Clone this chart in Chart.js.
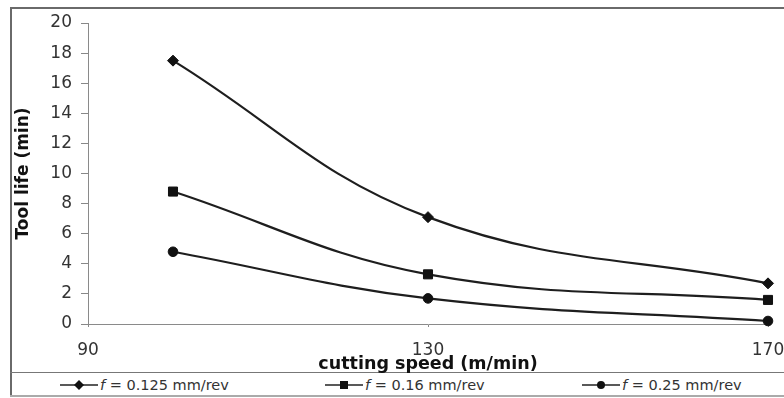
<!DOCTYPE html>
<html>
<head>
<meta charset="utf-8">
<script src="https://cdn.jsdelivr.net/npm/chart.js@4.4.1/dist/chart.umd.min.js"></script>
<style>
  html, body { margin: 0; padding: 0; background: #fff; width: 784px; height: 398px; overflow: hidden; }
  #frameLeft { position: absolute; left: 10px; top: 7px; width: 2px; height: 390px; background: #6a6a6a; }
  #frameTop { position: absolute; left: 10px; top: 7px; width: 774px; height: 2px; background: #6a6a6a; }
  #legendTop { position: absolute; left: 10px; top: 372px; width: 774px; height: 1px; background: #777; }
  #frameBottom { position: absolute; left: 10px; top: 395px; width: 774px; height: 2px; background: #aaa; }
  #wrap { position: absolute; left: 0; top: 0; width: 784px; height: 374px; }
  #legend { position: absolute; left: 0; top: 374px; width: 784px; height: 21px; font-family: "DejaVu Sans", sans-serif; font-size: 14.5px; color: #333; }
  .item { position: absolute; top: 2px; height: 18px; line-height: 18px; white-space: nowrap; }
  .item svg { vertical-align: middle; margin-right: 2px; position: relative; top: -1px; }
</style>
</head>
<body>
<div id="frameLeft"></div>
<div id="frameTop"></div>
<div id="legendTop"></div>
<div id="frameBottom"></div>
<div id="wrap"><canvas id="chart"></canvas></div>
<div id="legend"></div>
<script>
// Cutting speed (m/min) and measured tool life (min) for three feed rates
const cuttingSpeed = [100, 130, 170];
const feedRates = ['0.125', '0.16', '0.25'];
const lifeF0125 = [17.5, 7.1, 2.7];
const lifeF016 = [8.8, 3.3, 1.6];
const lifeF025 = [4.8, 1.7, 0.2];
const yTicks = [0, 2, 4, 6, 8, 10, 12, 14, 16, 18, 20];
const xTicks = [90, 130, 170];

const series = [
  { rate: feedRates[0], values: lifeF0125, marker: 'rectRot', radius: 5.5 },
  { rate: feedRates[1], values: lifeF016, marker: 'rect', radius: 6.4 },
  { rate: feedRates[2], values: lifeF025, marker: 'circle', radius: 4.8 }
];

const datasets = series.map(s => ({
  label: 'f = ' + s.rate + ' mm/rev',
  data: cuttingSpeed.map((x, i) => ({ x: x, y: s.values[i] })),
  borderColor: '#1e1e1e',
  backgroundColor: '#111',
  borderWidth: 2.2,
  pointStyle: s.marker,
  pointRadius: s.radius,
  pointBorderWidth: 1,
  pointBorderColor: '#111',
  tension: 0.4,
  clip: false,
  fill: false
}));

const tickFont = { family: '"DejaVu Sans", sans-serif', size: 17 };
const titleFontX = { family: '"DejaVu Sans", sans-serif', size: 17.5, weight: 'bold' };
const titleFontY = { family: '"DejaVu Sans", sans-serif', size: 17, weight: 'bold' };

new Chart(document.getElementById('chart'), {
  type: 'line',
  data: { datasets },
  options: {
    responsive: true,
    maintainAspectRatio: false,
    animation: false,
    layout: { padding: { left: 12, right: 0, top: 23, bottom: 0 } },
    plugins: { legend: { display: false }, tooltip: { enabled: false } },
    scales: {
      x: {
        type: 'linear',
        min: xTicks[0],
        max: xTicks[xTicks.length - 1],
        afterBuildTicks: sc => { sc.ticks = xTicks.map(v => ({ value: v })); },
        afterFit: sc => { sc.height = 50; sc.paddingRight = 16; },
        grid: { display: true, drawOnChartArea: false, drawTicks: true, tickLength: 3, color: '#888' },
        border: { display: true, color: '#8a8a8a', width: 1 },
        ticks: { font: tickFont, color: '#333', padding: 13, maxRotation: 0 },
        title: { display: true, text: 'cutting speed (m/min)', font: titleFontX, color: '#111', padding: { top: 0, bottom: -1 } }
      },
      y: {
        min: 0,
        max: 20,
        afterBuildTicks: sc => { sc.ticks = yTicks.map(v => ({ value: v })); },
        afterFit: sc => { sc.width = 76; },
        grid: { display: true, drawOnChartArea: false, drawTicks: true, tickLength: 7, color: '#888' },
        border: { display: true, color: '#8a8a8a', width: 1 },
        ticks: { font: tickFont, color: '#333', padding: 9 },
        title: { display: true, text: 'Tool life (min)', font: titleFontY, color: '#111', padding: { top: 1, bottom: 0 } }
      }
    }
  }
});

// Legend row: line with marker, then the feed-rate label
const legendX = [60, 325, 582];
const markerSvg = {
  rectRot: '<path d="M19 0 L24 5 L19 10 L14 5 Z" fill="#111"/>',
  rect: '<rect x="15" y="1" width="8" height="8" fill="#111"/>',
  circle: '<circle cx="19" cy="5" r="4" fill="#111"/>'
};
const legendEl = document.getElementById('legend');
series.forEach((s, i) => {
  const item = document.createElement('div');
  item.className = 'item';
  item.style.left = legendX[i] + 'px';
  item.innerHTML =
    '<svg width="38" height="10" viewBox="0 0 38 10"><line x1="0" y1="5" x2="38" y2="5" stroke="#222" stroke-width="1.5"/>' +
    markerSvg[s.marker] + '</svg>' +
    '<i>f</i> = ' + s.rate + ' mm/rev';
  legendEl.appendChild(item);
});
</script>
</body>
</html>
